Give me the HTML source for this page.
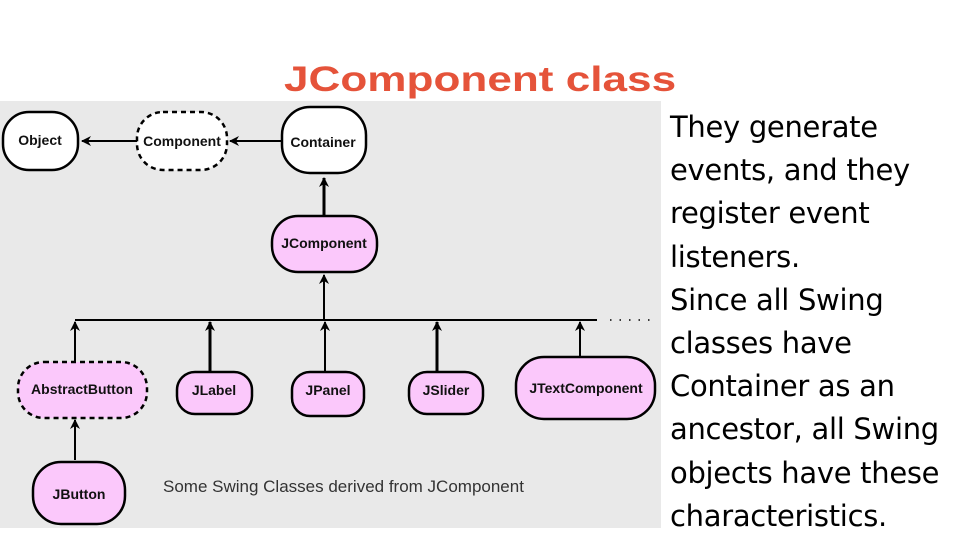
<!DOCTYPE html>
<html><head><style>
body{margin:0;width:960px;height:540px;background:#fff;position:relative;overflow:hidden;font-family:"Liberation Sans",sans-serif}
.t{position:absolute;left:284px;top:60px;font-size:35px;font-weight:bold;color:#e5533a;transform:scaleX(1.26);transform-origin:0 0;white-space:nowrap}
.r{position:absolute;left:670px;top:106px;font-family:"DejaVu Sans","Liberation Sans",sans-serif;font-size:29px;line-height:43.2px;color:#000;letter-spacing:-0.3px;white-space:nowrap}
</style></head><body>
<svg width="960" height="540" style="position:absolute;left:0;top:0">
<defs><marker id="a" markerWidth="10" markerHeight="10" refX="9" refY="5" orient="auto" markerUnits="userSpaceOnUse"><path d="M0,0L10,5L0,10L3,5z" fill="#000"/></marker></defs>
<rect x="0" y="101" width="661" height="427" fill="#e9e9e9"/>
<g stroke="#000" stroke-width="2" fill="none">
<line x1="137" y1="141" x2="82" y2="141" marker-end="url(#a)"/>
<line x1="282" y1="141" x2="230" y2="141" marker-end="url(#a)"/>
<line x1="324" y1="215" x2="324" y2="178" marker-end="url(#a)" stroke-width="3"/>
<line x1="324" y1="320" x2="324" y2="275" marker-end="url(#a)"/>
<line x1="75" y1="320" x2="597" y2="320"/>
<line x1="75" y1="378" x2="75" y2="322" marker-end="url(#a)"/>
<line x1="210" y1="376" x2="210" y2="322" marker-end="url(#a)" stroke-width="3"/>
<line x1="325" y1="378" x2="325" y2="322" marker-end="url(#a)"/>
<line x1="437" y1="376" x2="437" y2="322" marker-end="url(#a)" stroke-width="3"/>
<line x1="580" y1="360" x2="580" y2="322" marker-end="url(#a)"/>
<line x1="75" y1="460" x2="75" y2="420" marker-end="url(#a)"/>
<line x1="610" y1="320" x2="655" y2="320" stroke-dasharray="1.5 8" stroke-width="1.5"/>
</g>
<g stroke="#000" stroke-width="2.5">
<rect x="3" y="112" width="75" height="58" rx="26" fill="#fff"/>
<rect x="137" y="112" width="90" height="58" rx="26" fill="#fff" stroke-dasharray="5 4"/>
<rect x="282" y="107" width="84" height="66" rx="28" fill="#fff"/>
<rect x="272" y="216" width="105" height="56" rx="26" fill="#fbc8fb"/>
<rect x="18" y="362" width="129" height="56" rx="26" fill="#fbc8fb" stroke-dasharray="5 4"/>
<rect x="177" y="372" width="75" height="42" rx="18" fill="#fbc8fb"/>
<rect x="292" y="372" width="72" height="44" rx="18" fill="#fbc8fb"/>
<rect x="409" y="372" width="74" height="42" rx="18" fill="#fbc8fb"/>
<rect x="516" y="357" width="139" height="62" rx="28" fill="#fbc8fb"/>
<rect x="33" y="462" width="92" height="62" rx="28" fill="#fbc8fb"/>
</g>
<g font-family="Liberation Sans,sans-serif" font-weight="bold" font-size="14" text-anchor="middle" fill="#111">
<text x="40" y="145">Object</text>
<text x="182" y="146">Component</text>
<text x="323" y="147">Container</text>
<text x="324" y="248">JComponent</text>
<text x="82" y="394">AbstractButton</text>
<text x="214" y="395">JLabel</text>
<text x="328" y="395">JPanel</text>
<text x="446" y="395">JSlider</text>
<text x="586" y="393">JTextComponent</text>
<text x="79" y="499">JButton</text>
</g>
<text x="163" y="492" font-family="Liberation Sans,sans-serif" font-size="17" fill="#333">Some Swing Classes derived from JComponent</text>
</svg>
<div class="t">JComponent class</div>
<div class="r">They generate<br>events, and they<br>register event<br>listeners.<br>Since all Swing<br>classes have<br>Container as an<br>ancestor, all Swing<br>objects have these<br>characteristics.</div>
</body></html>
